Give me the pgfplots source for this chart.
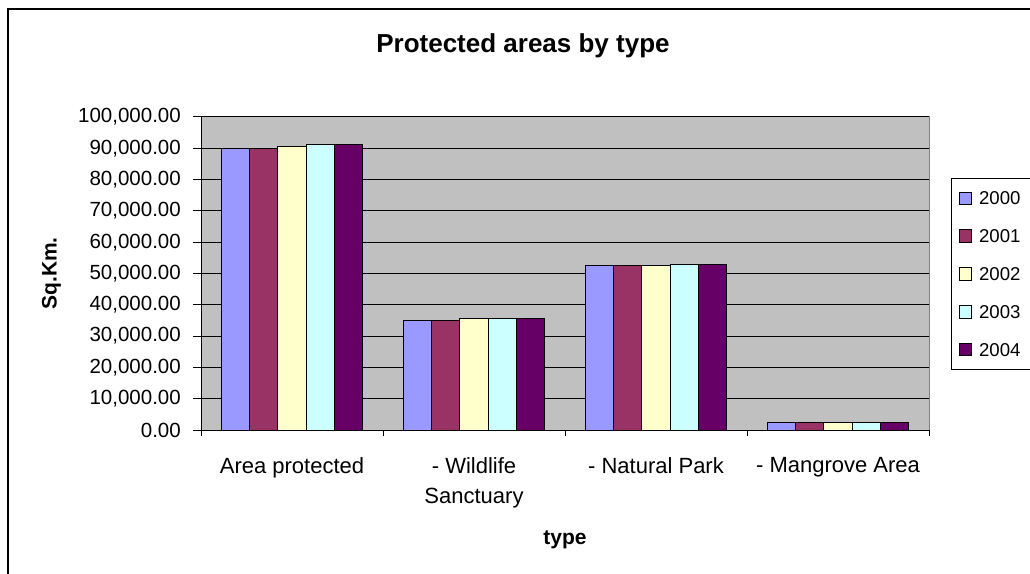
\documentclass[border=0pt]{standalone}
\usepackage{pgfplots}
\pgfplotsset{compat=1.18}
\usepackage{fontspec}
\setmainfont{Liberation Sans}
\definecolor{cA}{HTML}{9999FF}
\definecolor{cB}{HTML}{993366}
\definecolor{cC}{HTML}{FFFFCC}
\definecolor{cD}{HTML}{CCFFFF}
\definecolor{cE}{HTML}{660066}
\definecolor{plotbg}{HTML}{C0C0C0}
\definecolor{plotborder}{HTML}{808080}
\pgfplotsset{
  mybarlegend/.style={legend image code/.code={\draw[##1,line width=1pt] (0pt,-6.3pt) rectangle (12.6pt,6.3pt);}}
}
\newcommand{\legtxt}[1]{\makebox[70pt][l]{#1}}
\begin{document}
\begin{tikzpicture}[x=1pt,y=1pt]
\useasboundingbox (0,0) rectangle (1030,573);
\clip (0,0) rectangle (1030,573);
\fill[white] (0,0) rectangle (1030,573);
\draw[line width=1.3pt] (8,564) rectangle (1060,-20);
\begin{axis}[
  at={(201pt,143pt)}, anchor=south west,
  scale only axis, width=728pt, height=313pt,
  xmin=0, xmax=4, ymin=0, ymax=100000,
  ybar=0pt, bar width=28.2pt,
  axis x line*=bottom, axis y line*=left,
  axis line style={black, line width=1pt},
  axis background/.style={fill=plotbg, draw=plotborder, line width=1pt},
  xtick={0.5,1.5,2.5,3.5},
  xticklabels={Area protected,{- Wildlife\\Sanctuary},- Natural Park,- Mangrove Area},
  minor xtick={0,1,2,3,4},
  major x tick style={draw=none},
  minor x tick style={black, line width=1pt},
  ytick={0,10000,...,100000},
  major tick length=8pt, minor tick length=6pt,
  tick align=outside,
  y tick style={black, line width=1pt},
  ymajorgrids, major grid style={black, line width=1pt},
  scaled y ticks=false,
  /pgf/number format/fixed, /pgf/number format/fixed zerofill, /pgf/number format/precision=2,
  /pgf/number format/1000 sep={,}, /pgf/number format/assume math mode=true,
  yticklabel style={anchor=east, inner sep=0pt, xshift=-12pt, font=\fontsize{20.5}{20.5}\selectfont},
  xticklabel style={align=center, anchor=north, inner sep=0pt, yshift=-19.5pt, font=\fontsize{22}{30.3}\selectfont},
  title={Protected areas by type},
  title style={at={(axis description cs:0.4423,1.2077)}, anchor=center, font=\bfseries\fontsize{26}{26}\selectfont},
  xlabel={type},
  every axis x label/.style={at={(axis description cs:0.5,-0.35)}, anchor=center, font=\bfseries\fontsize{21}{21}\selectfont},
  ylabel={Sq.Km.},
  every axis y label/.style={at={(axis description cs:-0.2054,0.5)}, rotate=90, anchor=center, font=\bfseries\fontsize{21}{21}\selectfont},
  every axis plot post/.append style={draw=black, line width=1pt, mybarlegend},
  legend cell align=left,
  legend style={at={(axis description cs:1,1)}, anchor=north west, xshift=21.7pt, yshift=-61pt,
    draw=black, line width=1pt, fill=white, inner xsep=7.3pt, inner ysep=13pt,
    row sep=24.2pt, column sep=7pt,
    font=\fontsize{18.6}{18.6}\selectfont,
    nodes={inner sep=0pt, text height=13.3pt, text depth=0pt}},
]
\addplot[fill=cA] coordinates {(0.5,89800) (1.5,34900) (2.5,52400) (3.5,2300)};
\addlegendentry{\legtxt{2000}}
\addplot[fill=cB] coordinates {(0.5,89800) (1.5,34900) (2.5,52400) (3.5,2300)};
\addlegendentry{\legtxt{2001}}
\addplot[fill=cC] coordinates {(0.5,90500) (1.5,35500) (2.5,52400) (3.5,2300)};
\addlegendentry{\legtxt{2002}}
\addplot[fill=cD] coordinates {(0.5,91100) (1.5,35500) (2.5,53000) (3.5,2300)};
\addlegendentry{\legtxt{2003}}
\addplot[fill=cE] coordinates {(0.5,91100) (1.5,35500) (2.5,53000) (3.5,2300)};
\addlegendentry{\legtxt{2004}}
\end{axis}
\end{tikzpicture}
\end{document}
